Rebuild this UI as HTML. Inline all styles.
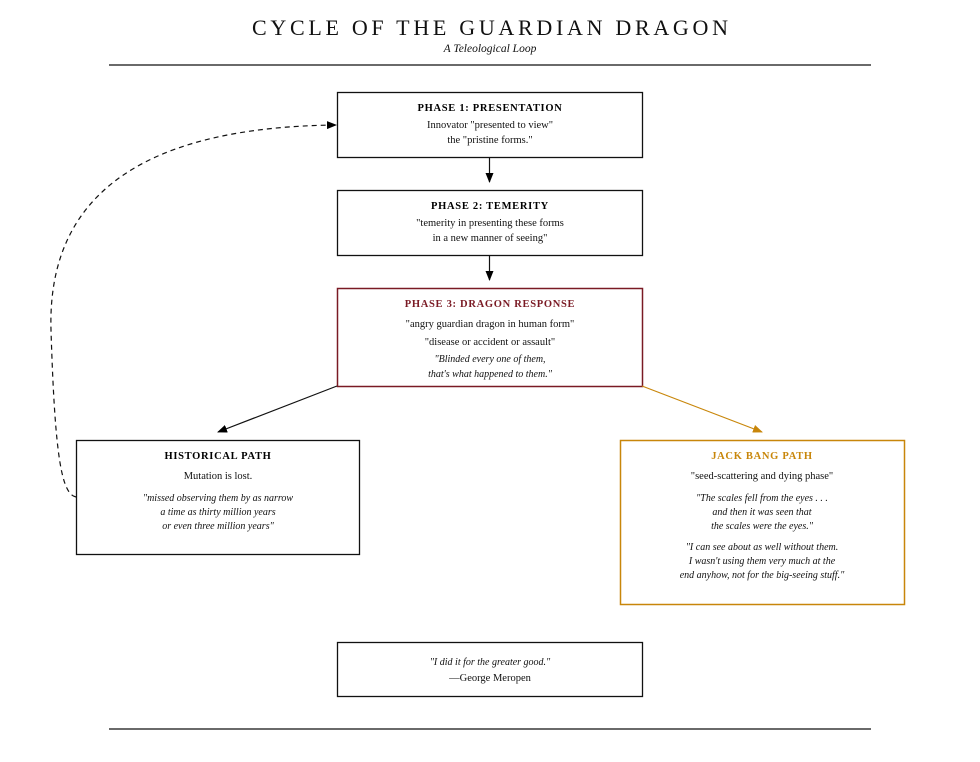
<!DOCTYPE html>
<html><head><meta charset="utf-8"><style>
html,body{margin:0;padding:0;background:#fff;}
svg{display:block;font-family:"Liberation Serif",serif;}
.h{font-weight:bold;font-size:10.5px;letter-spacing:0.7px;text-anchor:middle;}
.b{font-size:10.5px;text-anchor:middle;fill:#111;}
.i{font-size:10px;font-style:italic;text-anchor:middle;fill:#111;}
</style></head><body>
<svg width="980" height="762" viewBox="0 0 980 762" xmlns="http://www.w3.org/2000/svg">
<defs>
<marker id="ab" markerWidth="10" markerHeight="8" refX="9" refY="4" orient="auto" markerUnits="userSpaceOnUse"><path d="M0,0 L10,4 L0,8 z" fill="#000"/></marker>
<marker id="ao" markerWidth="10" markerHeight="8" refX="9" refY="4" orient="auto" markerUnits="userSpaceOnUse"><path d="M0,0 L10,4 L0,8 z" fill="#c8860a"/></marker>
</defs>
<text x="490" y="35" text-anchor="middle" font-size="22" textLength="476" lengthAdjust="spacing" fill="#111">CYCLE OF THE GUARDIAN DRAGON</text>
<text x="490" y="52" text-anchor="middle" font-size="11.5" font-style="italic" fill="#111">A Teleological Loop</text>
<line x1="109" y1="65" x2="871" y2="65" stroke="#111" stroke-width="1.3"/>
<line x1="109" y1="729" x2="871" y2="729" stroke="#111" stroke-width="1.3"/>

<rect x="337.5" y="92.5" width="305" height="65" fill="#fff" stroke="#111" stroke-width="1.3"/>
<text class="h" x="490" y="111">PHASE 1: PRESENTATION</text>
<text class="b" x="490" y="128">Innovator "presented to view"</text>
<text class="b" x="490" y="143">the "pristine forms."</text>

<rect x="337.5" y="190.5" width="305" height="65" fill="#fff" stroke="#111" stroke-width="1.3"/>
<text class="h" x="490" y="209">PHASE 2: TEMERITY</text>
<text class="b" x="490" y="226">"temerity in presenting these forms</text>
<text class="b" x="490" y="241">in a new manner of seeing"</text>

<rect x="337.5" y="288.5" width="305" height="98" fill="#fff" stroke="#7a1a24" stroke-width="1.5"/>
<text class="h" x="490" y="307" fill="#7a1a24">PHASE 3: DRAGON RESPONSE</text>
<text class="b" x="490" y="327">"angry guardian dragon in human form"</text>
<text class="b" x="490" y="345">"disease or accident or assault"</text>
<text class="i" x="490" y="362">"Blinded every one of them,</text>
<text class="i" x="490" y="377">that's what happened to them."</text>

<rect x="76.5" y="440.5" width="283" height="114" fill="#fff" stroke="#111" stroke-width="1.3"/>
<text class="h" x="218" y="459">HISTORICAL PATH</text>
<text class="b" x="218" y="479">Mutation is lost.</text>
<text class="i" x="218" y="501">"missed observing them by as narrow</text>
<text class="i" x="218" y="515">a time as thirty million years</text>
<text class="i" x="218" y="529">or even three million years"</text>

<rect x="620.5" y="440.5" width="284" height="164" fill="#fff" stroke="#c8860a" stroke-width="1.5"/>
<text class="h" x="762" y="459" fill="#c8860a">JACK BANG PATH</text>
<text class="b" x="762" y="479">"seed-scattering and dying phase"</text>
<text class="i" x="762" y="501">"The scales fell from the eyes . . .</text>
<text class="i" x="762" y="515">and then it was seen that</text>
<text class="i" x="762" y="529">the scales were the eyes."</text>
<text class="i" x="762" y="550">"I can see about as well without them.</text>
<text class="i" x="762" y="564">I wasn't using them very much at the</text>
<text class="i" x="762" y="578">end anyhow, not for the big-seeing stuff."</text>

<rect x="337.5" y="642.5" width="305" height="54" fill="#fff" stroke="#111" stroke-width="1.3"/>
<text class="i" x="490" y="665">"I did it for the greater good."</text>
<text class="b" x="490" y="681">—George Meropen</text>

<line x1="489.5" y1="158" x2="489.5" y2="182" stroke="#111" stroke-width="1.2" marker-end="url(#ab)"/>
<line x1="489.5" y1="256" x2="489.5" y2="280" stroke="#111" stroke-width="1.2" marker-end="url(#ab)"/>
<line x1="337" y1="386" x2="218" y2="432" stroke="#111" stroke-width="1.2" marker-end="url(#ab)"/>
<line x1="642" y1="386" x2="762" y2="432" stroke="#c8860a" stroke-width="1.2" marker-end="url(#ao)"/>
<path d="M76,497 C62,494 55,460 51,330 C47,190 150,127 336,125" fill="none" stroke="#111" stroke-width="1.2" stroke-dasharray="5,4" marker-end="url(#ab)"/>
</svg>
</body></html>
